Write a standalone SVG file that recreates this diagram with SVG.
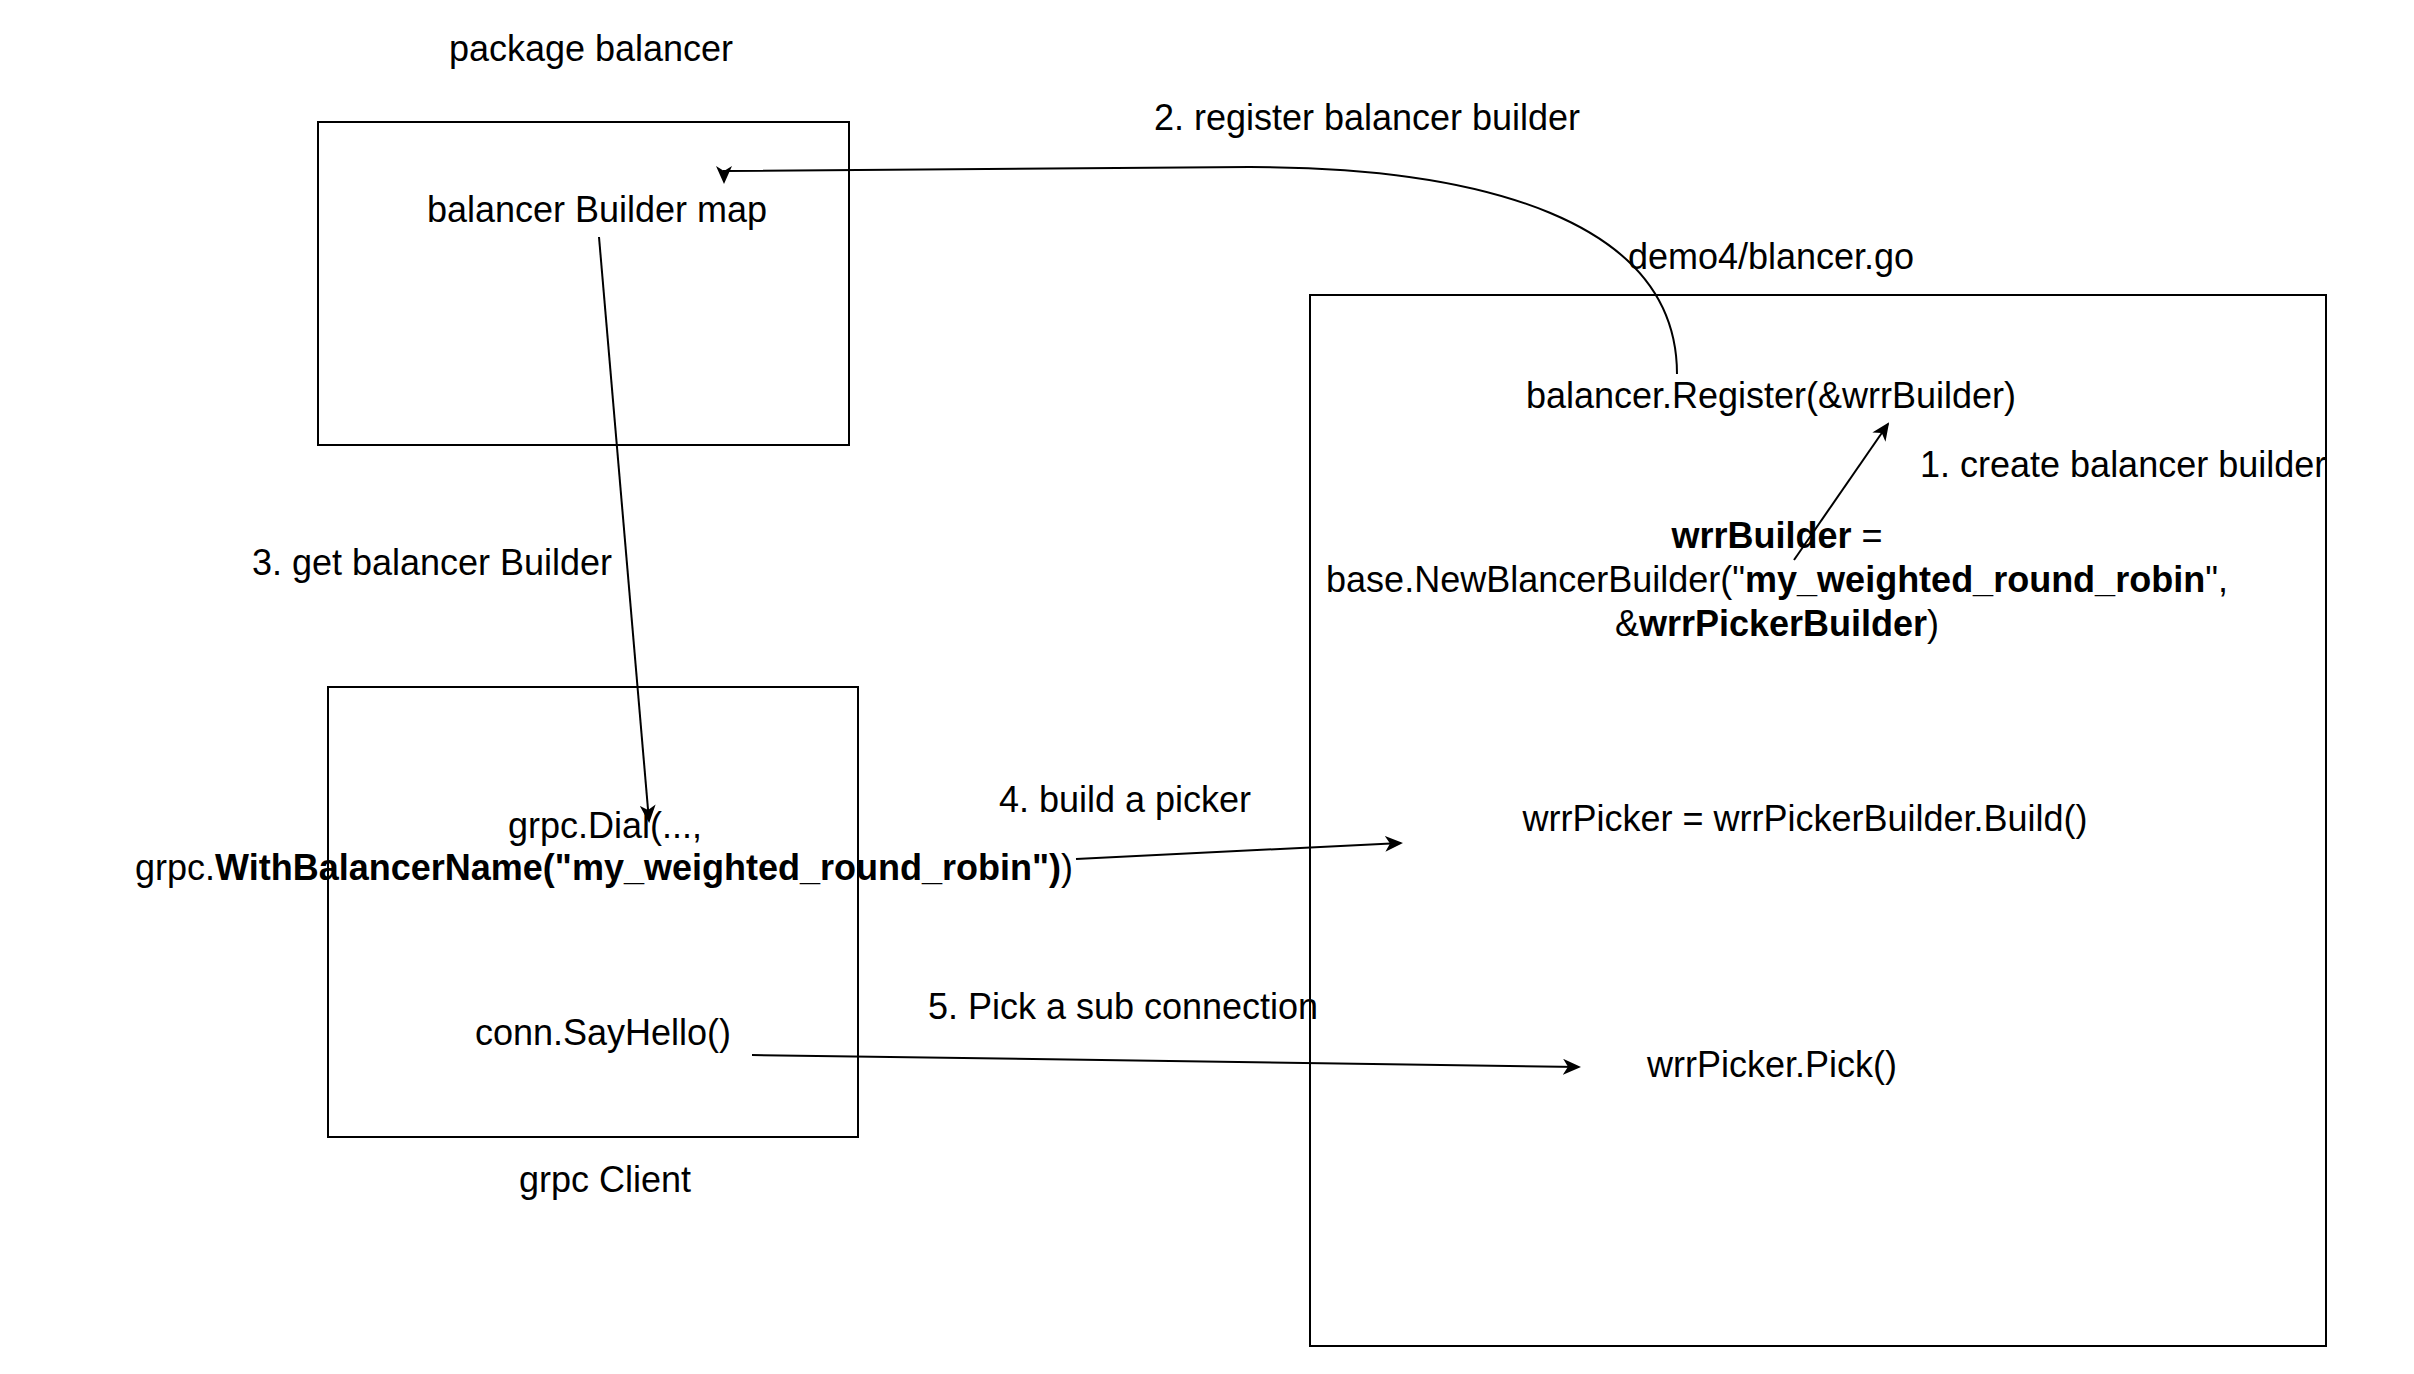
<svg xmlns="http://www.w3.org/2000/svg" width="2414" height="1374" viewBox="0 0 2414 1374">
<defs>
<marker id="ah" markerWidth="18" markerHeight="16" refX="16" refY="8" orient="auto" markerUnits="userSpaceOnUse" viewBox="0 0 18 16"><path d="M0,0 L18,8 L0,16 L5,8 Z" fill="#000"/></marker>
<style>
text{font-family:"Liberation Sans",Arial,sans-serif;font-size:36px;fill:#000;text-anchor:middle}
.b{font-weight:bold}
.box{fill:none;stroke:#000;stroke-width:2}
.c{fill:none;stroke:#000;stroke-width:2}
</style>
</defs>
<rect width="2414" height="1374" fill="#fff"/>
<g id="pkg">
<rect class="box" x="318" y="122" width="531" height="323"/>
<text x="591" y="61">package balancer</text>
<text x="597" y="222">balancer Builder map</text>
</g>
<g id="demo">
<rect class="box" x="1310" y="295" width="1016" height="1051"/>
<text x="1771" y="269">demo4/blancer.go</text>
<text x="1771" y="408">balancer.Register(&amp;wrrBuilder)</text>
<text x="1777" y="548"><tspan class="b">wrrBuilder</tspan> =</text>
<text x="1777" y="592">base.NewBlancerBuilder("<tspan class="b">my_weighted_round_robin</tspan>",</text>
<text x="1777" y="636">&amp;<tspan class="b">wrrPickerBuilder</tspan>)</text>
<text x="1805" y="831">wrrPicker = wrrPickerBuilder.Build()</text>
<text x="1772" y="1077">wrrPicker.Pick()</text>
</g>
<g id="client">
<rect class="box" x="328" y="687" width="530" height="450"/>
<text x="605" y="838">grpc.Dial(...,</text>
<text x="604" y="880">grpc.<tspan class="b">WithBalancerName("my_weighted_round_robin")</tspan>)</text>
<text x="603" y="1045">conn.SayHello()</text>
<text x="605" y="1192">grpc Client</text>
</g>
<g id="connectors">
<path class="c" d="M1677,374 C1677,220 1480,167 1250,167 L724,171 L724,182" marker-end="url(#ah)"/>
<path class="c" d="M1794,560 L1888,424" marker-end="url(#ah)"/>
<path class="c" d="M599,237 L649,821" marker-end="url(#ah)"/>
<path class="c" d="M1076,859 L1401,843" marker-end="url(#ah)"/>
<path class="c" d="M752,1055 L1579,1067" marker-end="url(#ah)"/>
<text x="1367" y="130">2. register balancer builder</text>
<text x="1920" y="477" style="text-anchor:start">1. create balancer builder</text>
<text x="432" y="575">3. get balancer Builder</text>
<text x="1125" y="812">4. build a picker</text>
<text x="1123" y="1019">5. Pick a sub connection</text>
</g>
</svg>
